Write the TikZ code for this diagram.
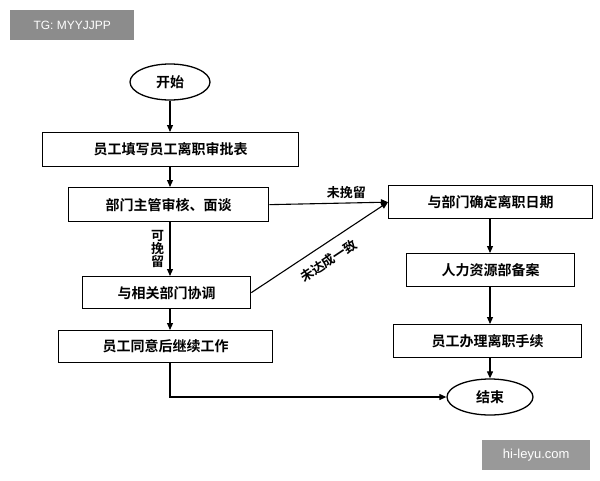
\documentclass[tikz,border=0pt]{standalone}
\usepackage{fontspec}
\setmainfont{Noto Sans CJK SC}[BoldFont={* Bold}]
\newfontfamily\wm{Liberation Sans}
\usetikzlibrary{arrows.meta,shapes.geometric}
\begin{document}
\begin{tikzpicture}[x=1pt,y=-1pt,
  bx/.style={draw,line width=1.3pt,font=\bfseries\fontsize{14}{16}\selectfont,inner sep=0pt,anchor=north west},
  el/.style={draw,ellipse,line width=1.3pt,font=\bfseries\fontsize{14}{16}\selectfont,minimum width=80pt,minimum height=36pt,inner sep=0pt},
  ar/.style={line width=1.1pt,-{Triangle[length=7pt,width=6pt]}},
  lb/.style={font=\bfseries\fontsize{13}{14}\selectfont}]
\useasboundingbox (0,0) rectangle (600,480);
\node[el] (s) at (170,82) {开始};
\node[bx,minimum width=256pt,minimum height=34pt] (b1) at (42,132) {员工填写员工离职审批表};
\node[bx,minimum width=200pt,minimum height=34pt] (b2) at (68,187) {部门主管审核、面谈};
\node[bx,minimum width=168pt,minimum height=32pt] (b3) at (82,276) {与相关部门协调};
\node[bx,minimum width=214pt,minimum height=32pt] (b4) at (58,330) {员工同意后继续工作};
\node[bx,minimum width=204pt,minimum height=33pt] (r1) at (388,185) {与部门确定离职日期};
\node[bx,minimum width=168pt,minimum height=33pt] (r2) at (406,253) {人力资源部备案};
\node[bx,minimum width=188pt,minimum height=33pt] (r3) at (393,324) {员工办理离职手续};
\node[el,minimum width=86pt] (e) at (490,397) {结束};
\draw[ar] (s) -- (s|-b1.north);
\draw[ar] (b1.south-|s) -- (b2.north-|s);
\draw[ar] (b2.south-|s) -- (b3.north-|s) node[pos=0.5,left=2pt,lb,align=center,text width=13pt,font=\bfseries\fontsize{13}{13}\selectfont]{可\\挽\\留};
\draw[ar] (b3.south-|s) -- (b4.north-|s);
\draw[ar] (b2.east) -- (r1.west) node[pos=0.65,above,lb]{未挽留};
\draw[ar] (b3.east) -- (r1.west) node[pos=0.5,sloped,below=6pt,lb]{未达成一致};
\draw[ar] (b4.south-|s) |- (e.west);
\draw[ar] (r1.south-|e) -- (r2.north-|e);
\draw[ar] (r2.south-|e) -- (r3.north-|e);
\draw[ar] (r3.south-|e) -- (e.north);
\node[fill=black!45,text=white,font=\wm\fontsize{12}{14}\selectfont,anchor=north west,minimum width=124pt,minimum height=30pt] (w1) at (10,10) {TG: MYYJJPP};
\node[fill=black!40,text=white,font=\wm\fontsize{13}{15}\selectfont,anchor=north west,minimum width=108pt,minimum height=30pt] (w2) at (482,440) {hi-leyu.com};
\end{tikzpicture}
\end{document}
